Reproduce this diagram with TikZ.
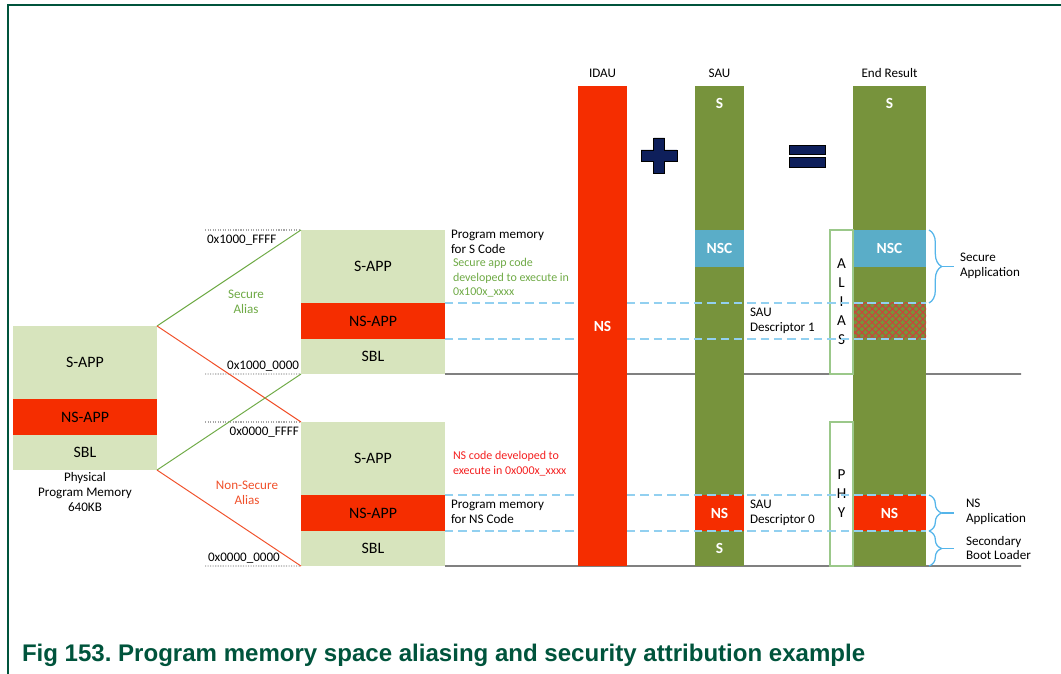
\documentclass[tikz,border=0pt]{standalone}
\usepackage{fontspec}
\setmainfont{Carlito}
\newfontfamily\captionfont{Liberation Sans}
\usetikzlibrary{positioning, calc, patterns.meta, decorations.pathreplacing}

\definecolor{appgreen}{HTML}{D7E4BD}
\definecolor{nsred}{HTML}{F52D00}
\definecolor{sauolive}{HTML}{77933C}
\definecolor{nscblue}{HTML}{5AADC8}
\definecolor{dashblue}{HTML}{92D0F0}
\definecolor{braceblue}{HTML}{55B5EA}
\definecolor{framegreen}{HTML}{00543C}
\definecolor{signnavy}{HTML}{0E1F5B}
\definecolor{secgreen}{HTML}{6FAA46}
\definecolor{nstxtred}{HTML}{F0502A}
\definecolor{codered}{HTML}{F42020}
\definecolor{aliasgreen}{HTML}{9BC88A}
\definecolor{hatchred}{HTML}{C8463A}

\begin{document}
\begin{tikzpicture}[
    x=0.025cm, y=-0.025cm,
    every node/.style={font=\fontsize{9.3}{10.6}\selectfont, inner sep=0pt, outer sep=0pt},
    block/.style={minimum width=3.6cm, anchor=north, font=\fontsize{11.3}{13}\selectfont},
    sapp/.style={block, fill=appgreen, minimum height=1.825cm},
    nsapp/.style={block, fill=nsred, minimum height=0.9cm},
    sbl/.style={block, fill=appgreen, minimum height=0.875cm},
    bar/.style={minimum height=12cm, anchor=north},
    thinbar/.style={bar, minimum width=1.225cm},
    widebar/.style={bar, minimum width=1.825cm},
    barlbl/.style={text=white, font=\fontsize{11}{13}\selectfont\bfseries},
    section/.style={anchor=north, barlbl},
    nsc_sec/.style={section, fill=nscblue, minimum height=0.925cm},
    ns_sec/.style={section, fill=nsred, minimum height=0.9cm},
    hatch_sec/.style={section, fill=sauolive, minimum height=0.9cm,
        postaction={pattern={Hatch[angle=45, distance=3.4pt, line width=0.8pt]}, pattern color=hatchred}},
    sidebox/.style={anchor=north, draw=aliasgreen, line width=0.8pt, fill=white, minimum width=0.575cm,
        minimum height=3.6cm, align=center, font=\fontsize{10.8}{13.5}\selectfont},
    note/.style={anchor=west, align=left},
    small_note/.style={note, font=\fontsize{8.5}{10.3}\selectfont},
    secure_map/.style={draw=secgreen, line width=0.7pt},
    ns_map/.style={draw=nstxtred, line width=0.7pt},
    addr_rule/.style={draw=gray!70, densely dotted, line width=0.8pt},
    base_rule/.style={draw=gray, line width=1.2pt},
    sau_rule/.style={draw=dashblue, dashed, dash pattern=on 6pt off 3.5pt, line width=1pt},
    bracket/.style={draw=braceblue, line width=0.9pt, decorate, decoration={brace, amplitude=9pt}},
    bracket_tick/.style={draw=braceblue, line width=0.9pt},
    opsign/.style={fill=signnavy, draw=black, line width=0.6pt},
]

    \useasboundingbox (0,0) rectangle (1061,674);

    % frame
    \draw[framegreen, line width=1.4pt] (1061,5) -- (8,5) -- (8,674);

    % 1. Physical program memory
    \node[sapp] (phys_sapp) at (85,326) {S-APP};
    \node[nsapp, below=0pt of phys_sapp] (phys_nsapp) {NS-APP};
    \node[sbl, below=0pt of phys_nsapp] (phys_sbl) {SBL};
    \node[below=2pt of phys_sbl, align=center] (phys_lbl) {Physical\\Program Memory\\640KB};

    % 2. Secure alias
    \node[sapp] (up_sapp) at (373,230) {S-APP};
    \node[nsapp, below=0pt of up_sapp] (up_nsapp) {NS-APP};
    \node[sbl, below=0pt of up_nsapp] (up_sbl) {SBL};

    % 3. Non-secure alias
    \node[sapp] (lo_sapp) at (373,422) {S-APP};
    \node[nsapp, below=0pt of lo_sapp] (lo_nsapp) {NS-APP};
    \node[sbl, below=0pt of lo_nsapp] (lo_sbl) {SBL};

    % address marks
    \coordinate (up_top_start) at (205,230);
    \coordinate (up_bot_start) at (205,374);
    \coordinate (lo_top_start) at (205,422);
    \coordinate (lo_bot_start) at (205,566);
    \draw[addr_rule] (up_top_start) -- (up_sapp.north west);
    \draw[addr_rule] (up_bot_start) -- (up_sbl.south west);
    \draw[addr_rule] (lo_top_start) -- (lo_sapp.north west);
    \draw[addr_rule] (lo_bot_start) -- (lo_sbl.south west);
    \node[anchor=west] (addr_up_hi) at (207,240) {0x1000\_FFFF};
    \node[anchor=east] (addr_up_lo) at (299,366) {0x1000\_0000};
    \node[anchor=east] (addr_lo_hi) at (299,432) {0x0000\_FFFF};
    \node[anchor=west] (addr_lo_lo) at (208,558) {0x0000\_0000};

    % alias mapping
    \draw[secure_map] (phys_sapp.north east) -- (up_sapp.north west);
    \draw[ns_map] (phys_sapp.north east) -- (lo_sapp.north west);
    \draw[secure_map] (phys_sbl.south east) -- (up_sbl.south west);
    \draw[ns_map] (phys_sbl.south east) -- (lo_sbl.south west);
    \node[align=center, text=secgreen] (sec_alias) at (246,302) {Secure\\Alias};
    \node[align=center, text=nstxtred] (ns_alias) at (247,493) {Non-Secure\\Alias};

    % notes
    \node[note] (s_code) at (451,241.5) {Program memory\\for S Code};
    \node[small_note, text=secgreen] (s_exec) at (453,278) {Secure app code\\developed to execute in\\0x100x\_xxxx};
    \node[small_note, text=codered] (ns_exec) at (453,463.5) {NS code developed to\\execute in 0x000x\_xxxx};
    \node[note] (ns_code) at (451,511.5) {Program memory\\for NS Code};

    % baselines
    \coordinate (up_rule_end) at (1021,374);
    \coordinate (lo_rule_end) at (1021,566);
    \draw[base_rule] (up_sbl.south east) -- (up_rule_end);
    \draw[base_rule] (lo_sbl.south east) -- (lo_rule_end);

    % 4. IDAU + SAU = End Result
    \node[thinbar, fill=nsred] (idau) at (602.5,86) {};
    \node (idau_lbl) at (602.5,73) {IDAU};
    \node[barlbl] (idau_ns) at (602.5,326) {NS};

    \node[thinbar, fill=sauolive] (sau) at (719.5,86) {};
    \node (sau_lbl) at (719.5,73) {SAU};
    \node[barlbl] (sau_s_top) at (719.5,103) {S};
    \node[nsc_sec, minimum width=1.225cm] (sau_nsc) at (719.5,230) {NSC};
    \node[ns_sec, minimum width=1.225cm] (sau_ns) at (719.5,495) {NS};
    \node[barlbl] (sau_s_bot) at (719.5,548) {S};

    \node[widebar, fill=sauolive] (res) at (889.5,86) {};
    \node (res_lbl) at (889.5,73) {End Result};
    \node[barlbl] (res_s_top) at (889.5,103) {S};
    \node[nsc_sec, minimum width=1.825cm] (res_nsc) at (889.5,230) {NSC};
    \node[hatch_sec, minimum width=1.825cm] (res_alias) at (889.5,303) {};
    \node[ns_sec, minimum width=1.825cm] (res_ns) at (889.5,495) {NS};

    \node[sidebox] (alias_box) at (841.5,230) {A\\L\\I\\A\\S};
    \node[sidebox] (phy_box) at (841.5,422) {P\\H\\Y};

    % plus and equals
    \filldraw[opsign] (653.5,138) -- (664.5,138) -- (664.5,150) -- (677,150) -- (677,161) -- (664.5,161)
        -- (664.5,173) -- (653.5,173) -- (653.5,161) -- (641,161) -- (641,150) -- (653.5,150) -- cycle;
    \filldraw[opsign] (789,145) rectangle (825,154);
    \filldraw[opsign] (789,157) rectangle (825,167);

    % SAU descriptors
    \draw[sau_rule] (up_nsapp.north east) -- (up_nsapp.north east -| idau.west);
    \draw[sau_rule] (up_nsapp.north east -| idau.east) -- (up_nsapp.north east -| res.east);
    \draw[sau_rule] (up_nsapp.south east) -- (up_nsapp.south east -| idau.west);
    \draw[sau_rule] (up_nsapp.south east -| idau.east) -- (up_nsapp.south east -| res.east);
    \draw[sau_rule] (lo_nsapp.north east) -- (lo_nsapp.north east -| idau.west);
    \draw[sau_rule] (lo_nsapp.north east -| idau.east) -- (lo_nsapp.north east -| res.east);
    \draw[sau_rule] (lo_nsapp.south east) -- (lo_nsapp.south east -| idau.west);
    \draw[sau_rule] (lo_nsapp.south east -| idau.east) -- (lo_nsapp.south east -| res.east);
    \node[note] (desc_1) at (750,321) {SAU\\Descriptor 1};
    \node[note] (desc_0) at (750,513) {SAU\\Descriptor 0};

    % braces
    \coordinate (sec_top) at (929,230);
    \coordinate (sec_bot) at (929,303);
    \coordinate (nsa_top) at (929,495);
    \coordinate (nsa_bot) at (929,531);
    \coordinate (sbl_bot) at (929,566);
    \draw[bracket] (sec_top) -- (sec_bot);
    \draw[bracket] (nsa_top) -- (nsa_bot);
    \draw[bracket] (nsa_bot) -- (sbl_bot);
    \draw[bracket_tick] ($(sec_top)!0.5!(sec_bot)$) ++(13,0) -- ++(12,0);
    \draw[bracket_tick] ($(nsa_top)!0.5!(nsa_bot)$) ++(13,0) -- ++(12,0);
    \draw[bracket_tick] ($(nsa_bot)!0.5!(sbl_bot)$) ++(13,0) -- ++(12,0);
    \node[note] (sec_app) at (960,266) {Secure\\Application};
    \node[note] (ns_app) at (966,512) {NS\\Application};
    \node[note] (sbl_app) at (966,548) {Secondary\\Boot Loader};

    % caption
    \node[anchor=base west, text=framegreen, font=\captionfont\bfseries\fontsize{17.1}{20}\selectfont\frenchspacing] (fig_caption)
        at (22,662) {Fig 153. Program memory space aliasing and security attribution example};

\end{tikzpicture}
\end{document}
